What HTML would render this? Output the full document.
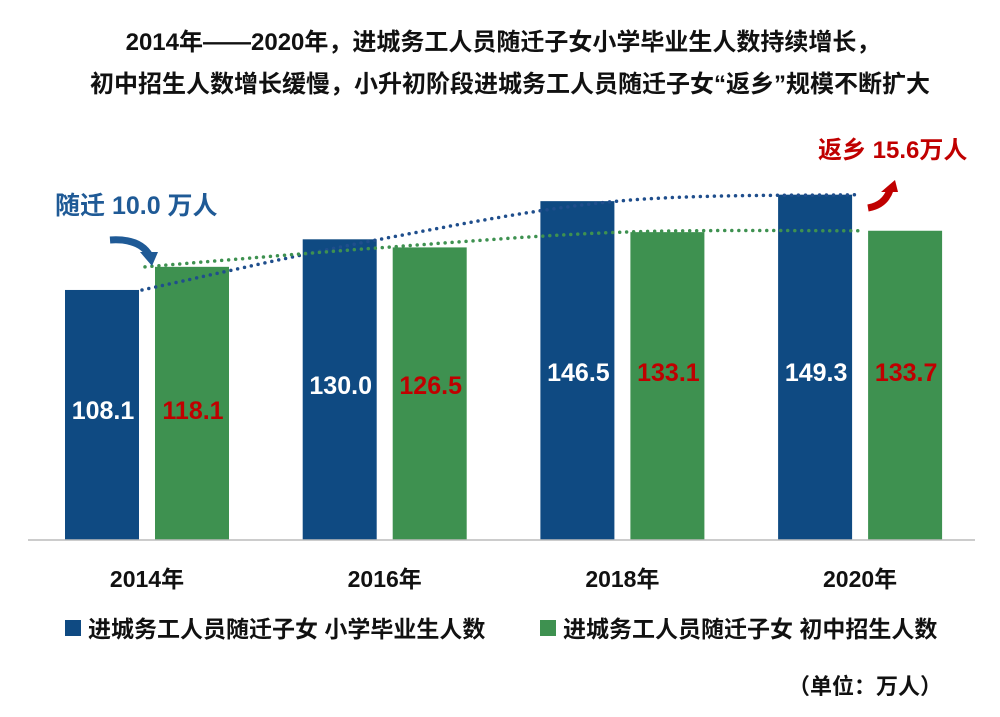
<!DOCTYPE html>
<html><head><meta charset="utf-8"><style>
body{margin:0;background:#fff;width:1000px;height:712px;overflow:hidden;font-family:"Liberation Sans","Noto Sans CJK SC",sans-serif}
text{font-family:"Liberation Sans","Noto Sans CJK SC",sans-serif;font-weight:bold}
</style></head><body>
<svg width="1000" height="712">
<text x="503" y="50" text-anchor="middle" font-size="24" fill="#111">2014年——2020年，进城务工人员随迁子女小学毕业生人数持续增长，</text>
<text x="510" y="92" text-anchor="middle" font-size="24" fill="#111">初中招生人数增长缓慢，小升初阶段进城务工人员随迁子女“返乡”规模不断扩大</text>
<g id="bars"></g>
<line x1="28" y1="540" x2="975" y2="540" stroke="#bbb" stroke-width="1.5"/>
<g id="dots"></g>
<text x="55" y="214" font-size="25" fill="#1f5a96">随迁 10.0 万人</text>
<path d="M110,240 Q140,238 150,256" stroke="#1f5a96" stroke-width="7" fill="none"/>
<polygon points="140,252 158,252 152,266" fill="#1f5a96"/>
<text x="818" y="158" font-size="24" fill="#c00000">返乡 15.6万人</text>
<path d="M868,208 Q885,205 890,190" stroke="#c00000" stroke-width="7" fill="none"/>
<polygon points="881,192 898,192 895,180" fill="#c00000"/>
<rect x="65" y="620" width="16" height="16" fill="#0f4a82"/>
<text x="88" y="637" font-size="23" fill="#111">进城务工人员随迁子女 小学毕业生人数</text>
<rect x="540" y="620" width="16" height="16" fill="#3e9150"/>
<text x="563" y="637" font-size="23" fill="#111">进城务工人员随迁子女 初中招生人数</text>
<text x="942" y="694" text-anchor="end" font-size="22" fill="#111">（单位：万人）</text>
</svg>
<script>
const categories=["2014年","2016年","2018年","2020年"];
const primaryGrads=[108.1,130.0,146.5,149.3];
const juniorEnroll=[118.1,126.5,133.1,133.7];
const NS="http://www.w3.org/2000/svg";
const base=540,k=2.313;
const y=v=>base-v*k;
const cx=i=>147+i*237.7;
const g=document.getElementById('bars'),d=document.getElementById('dots');
function mk(t,a,p){const e=document.createElementNS(NS,t);for(const n in a)e.setAttribute(n,a[n]);p.appendChild(e);return e;}
const bp=[],gp=[];
categories.forEach((c,i)=>{
 const b=mk('rect',{x:cx(i)-82,y:y(primaryGrads[i]),width:74,height:primaryGrads[i]*k,fill:'#0f4a82'},g);
 
 
 const r=mk('rect',{x:cx(i)+8,y:y(juniorEnroll[i]),width:74,height:juniorEnroll[i]*k,fill:'#3e9150'},g);
 
 
 const ly=i==0?419:(i==1?394:381);
 const t1=mk('text',{x:cx(i)-44,y:ly,'text-anchor':'middle','font-size':25,fill:'#fff'},g);t1.textContent=primaryGrads[i].toFixed(1);
 
 
 const t2=mk('text',{x:cx(i)+46,y:ly,'text-anchor':'middle','font-size':25,fill:'#c00000'},g);t2.textContent=juniorEnroll[i].toFixed(1);
 
 
 const xl=mk('text',{x:cx(i),y:587,'text-anchor':'middle','font-size':23,fill:'#111'},g);xl.textContent=c;
 
 
 bp.push([cx(i)-(i==3?5:5),y(primaryGrads[i])]);gp.push([cx(i)+(i==0?-2:0),y(juniorEnroll[i])]);
});
function curve(pts){let s='M'+pts[0][0]+','+pts[0][1];for(let i=0;i<pts.length-1;i++){const p0=pts[Math.max(i-1,0)],p1=pts[i],p2=pts[i+1],p3=pts[Math.min(i+2,pts.length-1)];
 const c1=[p1[0]+(p2[0]-p0[0])/6,p1[1]+(p2[1]-p0[1])/6],c2=[p2[0]-(p3[0]-p1[0])/6,p2[1]-(p3[1]-p1[1])/6];
 s+=' C'+c1+' '+c2+' '+p2;}return s;}
const l1=mk('path',{d:curve(bp),stroke:'#1f4e8c','stroke-width':3.5,'stroke-dasharray':'0 7','stroke-linecap':'round',fill:'none'},d);


const l2=mk('path',{d:curve(gp),stroke:'#3e9150','stroke-width':3.5,'stroke-dasharray':'0 7','stroke-linecap':'round',fill:'none'},d);


</script>
</body></html>
